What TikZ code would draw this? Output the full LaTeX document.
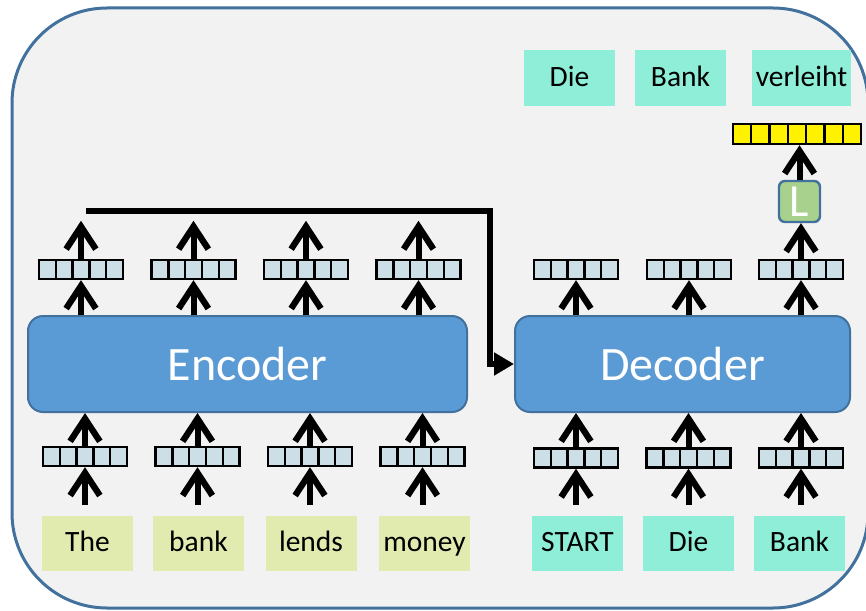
\documentclass[tikz,border=0pt]{standalone}
\usepackage{fontspec}
\setmainfont{Carlito}
\usetikzlibrary{arrows.meta}
\pgfdeclarearrow{
  name = Chev,
  cache = false,
  setup code = {
    \pgfarrowssettipend{0pt}
    \pgfarrowssetbackend{-30.07pt}
    \pgfarrowssetlineend{-9pt}
    \pgfarrowshullpoint{0pt}{0pt}
    \pgfarrowsupperhullpoint{-30.07pt}{17.5pt}
  },
  drawing code = {
    \pgfpathmoveto{\pgfpoint{0pt}{0pt}}
    \pgfpathlineto{\pgfpoint{-26.6pt}{17.5pt}}
    \pgfpathlineto{\pgfpoint{-30.07pt}{12.24pt}}
    \pgfpathlineto{\pgfpoint{-11.45pt}{0pt}}
    \pgfpathlineto{\pgfpoint{-30.07pt}{-12.24pt}}
    \pgfpathlineto{\pgfpoint{-26.6pt}{-17.5pt}}
    \pgfpathclose
    \pgfusepathqfill
  }
}
\definecolor{bgc}{HTML}{F2F2F2}
\definecolor{frame}{HTML}{41719C}
\definecolor{boxblue}{HTML}{5B9BD5}
\definecolor{cellc}{HTML}{CCDEE6}
\definecolor{encword}{HTML}{E2EBAF}
\definecolor{decword}{HTML}{8EEED8}
\definecolor{lgreen}{HTML}{A9D18E}
\tikzset{
  vec/.style={rectangle, draw=black, line width=2.4pt, fill=cellc, minimum width=84pt, minimum height=19pt, inner sep=0pt,
    path picture={\foreach \i in {1,...,4}{\draw[line width=2.4pt] ([xshift=\i*16.8pt]path picture bounding box.south west) -- ([xshift=\i*16.8pt]path picture bounding box.north west);}}},
  yvec/.style={rectangle, draw=black, line width=2.4pt, fill=yellow, minimum width=128pt, minimum height=20pt, inner sep=0pt,
    path picture={\foreach \i in {1,...,6}{\draw[line width=2.4pt] ([xshift=\i*18.286pt]path picture bounding box.south west) -- ([xshift=\i*18.286pt]path picture bounding box.north west);}}},
  wordbox/.style={rectangle, minimum width=91pt, minimum height=55pt, inner sep=0pt, text height=20pt, text depth=4pt, font=\fontsize{29.5}{32}\selectfont},
  encw/.style={wordbox, fill=encword},
  decw/.style={wordbox, fill=decword},
  bigbox/.style={rectangle, rounded corners=15pt, draw=frame, line width=2pt, fill=boxblue, text=white, minimum height=96pt, inner sep=0pt, font=\fontsize{48}{52}\selectfont},
  arr/.style={line width=6pt, -Chev},
  fwd/.style={line width=6pt, -{Triangle[length=20pt, width=22pt]}},
}
\begin{document}
\begin{tikzpicture}[x=1pt, y=-1pt]
\useasboundingbox (0,0) rectangle (866,610);
\fill[white] (0,0) rectangle (866,610);
\draw[frame, line width=3pt, fill=bgc, rounded corners=95pt] (12,8) rectangle (868,608);

% encoder / decoder
\node[bigbox, minimum width=439pt] (enc) at (247.5,364) {Encoder};
\node[bigbox, minimum width=335pt] (dec) at (682.5,364) {Decoder};

% encoder words
\node[encw] (w1) at (87.5,543.5) {The};
\node[encw] (w2) at (198.5,543.5) {bank};
\node[encw] (w3) at (311,543.5) {lends};
\node[encw] (w4) at (424.5,543.5) {money};
% decoder words
\node[decw] (d1) at (577.5,543.5) {START};
\node[decw] (d2) at (688.5,543.5) {Die};
\node[decw] (d3) at (799.5,543.5) {Bank};
% output words
\node[decw] (o1) at (569.5,78) {Die};
\node[decw] (o2) at (680.5,78) {Bank};
\node[decw, minimum width=99pt] (o3) at (801.5,78) {verleiht};

% encoder vectors
\node[vec] (eb1) at (85,456.5) {};
\node[vec] (eb2) at (197.5,456.5) {};
\node[vec] (eb3) at (310,456.5) {};
\node[vec] (eb4) at (422.5,456.5) {};
\node[vec] (et1) at (81,269.5) {};
\node[vec] (et2) at (193.5,269.5) {};
\node[vec] (et3) at (306,269.5) {};
\node[vec] (et4) at (418.5,269.5) {};
% decoder vectors
\node[vec] (db1) at (576,458) {};
\node[vec] (db2) at (688.5,458) {};
\node[vec] (db3) at (801,458) {};
\node[vec] (dt1) at (576,269.5) {};
\node[vec] (dt2) at (689,269.5) {};
\node[vec] (dt3) at (801,269.5) {};

% L and output vector
\node[rectangle, rounded corners=6pt, draw=frame, line width=2.4pt, fill=lgreen, text=white, minimum width=41pt, minimum height=41pt, inner sep=0pt, font=\fontsize{46}{46}\selectfont] (L) at (799.5,201.5) {L};
\node[yvec] (yv) at (797,134) {};

% bottom arrows
\foreach \w/\v in {w1/eb1, w2/eb2, w3/eb3, w4/eb4, d1/db1, d2/db2, d3/db3}{
  \draw[arr] ([yshift=11pt]\v |- \w.north) -- (\v.south);
}
\foreach \v in {eb1,eb2,eb3,eb4}{
  \draw[arr] (\v.north) -- (\v |- enc.south);
}
\foreach \v in {db1,db2,db3}{
  \draw[arr] (\v.north) -- (\v |- dec.south);
}
% top arrows
\foreach \v in {et1,et2,et3,et4}{
  \draw[arr] (\v |- enc.north) -- (\v.south);
  \coordinate (\v top) at ([yshift=38pt]\v.north);
  \draw[arr] (\v.north) -- (\v top);
}
\foreach \v in {dt1,dt2,dt3}{
  \draw[arr] (\v |- dec.north) -- (\v.south);
}
\draw[arr] (dt3.north) -- (dt3.north |- L.south);
\draw[arr] (L.north) -- (L.north |- yv.south);

% context line
\coordinate (cs) at (86,211);
\coordinate (cc) at (490,211);
\draw[fwd] (cs) -- (cc) |- (dec.west);
\end{tikzpicture}
\end{document}
